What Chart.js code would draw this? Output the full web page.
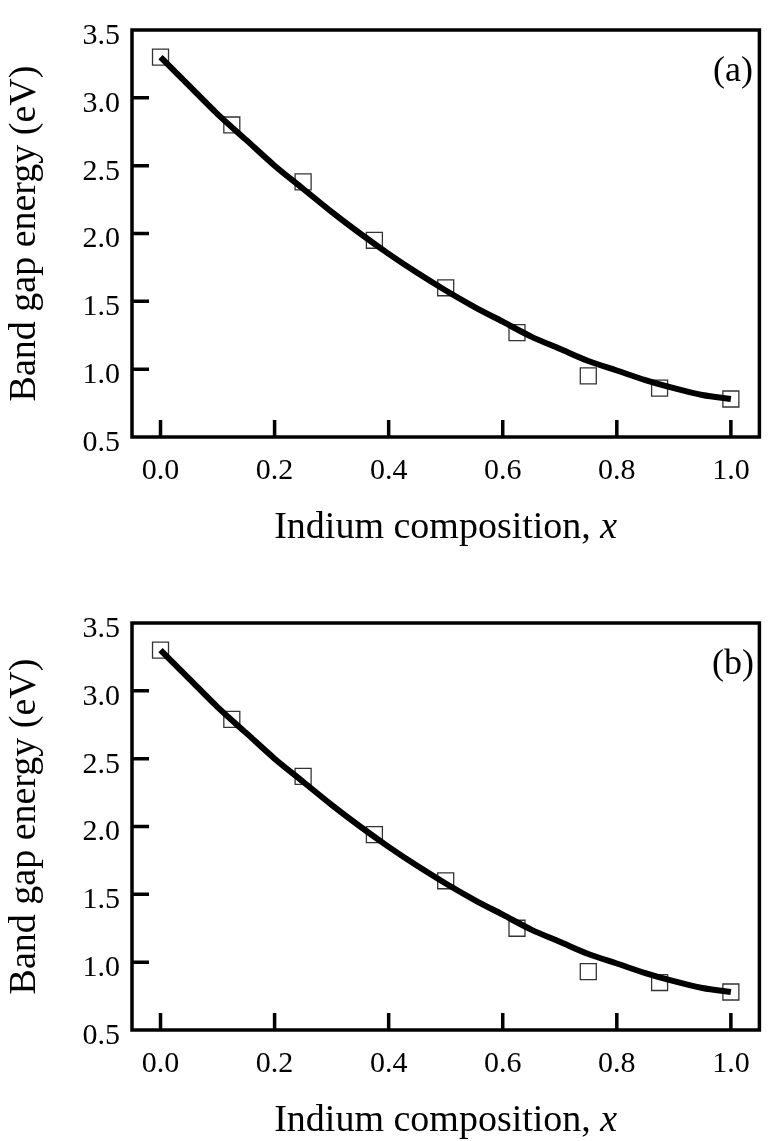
<!DOCTYPE html>
<html>
<head>
<meta charset="utf-8">
<title>Band gap energy vs indium composition</title>
<script src="https://cdn.jsdelivr.net/npm/chart.js@4.4.1/dist/chart.umd.min.js"></script>
<style>
  html, body { margin: 0; padding: 0; background: #fff; }
  #page { position: relative; width: 772px; height: 1141px; }
  .panel { position: absolute; left: 0; width: 772px; }
</style>
</head>
<body>
<div id="page">
  <div class="panel" style="top:0;height:593px"><canvas id="chartA" width="772" height="593"></canvas></div>
  <div class="panel" style="top:593px;height:548px"><canvas id="chartB" width="772" height="548"></canvas></div>
</div>
<script>
// Measured points (open squares), indium composition x
const indiumX = [0, 0.125, 0.25, 0.375, 0.5, 0.625, 0.75, 0.875, 1.0];
const bandGapA = [3.30, 2.80, 2.38, 1.95, 1.60, 1.27, 0.95, 0.86, 0.78];
const bandGapB = [3.30, 2.79, 2.37, 1.94, 1.60, 1.25, 0.93, 0.85, 0.78];

// Fitted curve (thick line)
const fitX = [0, 0.05, 0.1, 0.15, 0.2, 0.25, 0.3, 0.35, 0.4, 0.45, 0.5,
  0.55, 0.6, 0.65, 0.7, 0.75, 0.8, 0.85, 0.9, 0.95, 1.0];
const fitY = [3.30, 3.09, 2.88, 2.69, 2.50, 2.33, 2.16, 2.00, 1.85, 1.71, 1.58,
  1.46, 1.35, 1.24, 1.15, 1.06, 0.99, 0.92, 0.86, 0.81, 0.78];

// Tick labels
const xTicks = [0, 0.2, 0.4, 0.6, 0.8, 1.0];
const yTicks = [0.5, 1.0, 1.5, 2.0, 2.5, 3.0, 3.5];

const serif = "'Liberation Serif', 'Times New Roman', serif";

// Frame, inward tick marks and the titles
const panelDecor = {
  id: "panelDecor",
  afterDraw(chart, args, opts) {
    const ctx = chart.ctx;
    const { left, right, top, bottom } = chart.chartArea;
    const xs = chart.scales.x;
    const ys = chart.scales.y;
    ctx.save();
    ctx.strokeStyle = "#000";
    ctx.lineWidth = 3.5;
    ctx.strokeRect(left, top, right - left, bottom - top);

    // inner ticks
    ctx.beginPath();
    xTicks.forEach((v) => {
      const px = xs.getPixelForValue(v);
      ctx.moveTo(px, bottom);
      ctx.lineTo(px, bottom - 17);
    });
    yTicks.slice(1, -1).forEach((v) => {
      const py = ys.getPixelForValue(v);
      ctx.moveTo(left, py);
      ctx.lineTo(left + 17, py);
    });
    ctx.stroke();

    ctx.fillStyle = "#000";

    // y title
    ctx.save();
    ctx.translate(25, (top + bottom) / 2);
    ctx.rotate(-Math.PI / 2);
    ctx.font = "38px " + serif;
    ctx.textAlign = "center";
    ctx.textBaseline = "middle";
    ctx.fillText("Band gap energy (eV)", 0, 0);
    ctx.restore();

    // x title, with italic x
    const part1 = "Indium composition, ";
    const part2 = "x";
    ctx.font = "38px " + serif;
    const w1 = ctx.measureText(part1).width;
    ctx.font = "italic 38px " + serif;
    const w2 = ctx.measureText(part2).width;
    const startX = (left + right) / 2 - (w1 + w2) / 2;
    ctx.textAlign = "left";
    ctx.textBaseline = "alphabetic";
    ctx.font = "38px " + serif;
    ctx.fillText(part1, startX, bottom + 101);
    ctx.font = "italic 38px " + serif;
    ctx.fillText(part2, startX + w1, bottom + 101);

    // panel label
    ctx.font = "36px " + serif;
    ctx.textAlign = "center";
    ctx.textBaseline = "middle";
    ctx.fillText(opts.label, 733, top + 42);
    ctx.restore();
  },
};

function createPanel(canvasId, markerValues, label) {
  const canvas = document.getElementById(canvasId);
  const ctx = canvas.getContext("2d");
  const plotBottom = 437;

  return new Chart(ctx, {
    type: "scatter",
    data: {
      datasets: [
        {
          type: "line",
          data: fitX.map((x, i) => ({ x: x, y: fitY[i] })),
          borderColor: "#000",
          borderWidth: 6,
          pointRadius: 0,
          cubicInterpolationMode: "monotone",
          fill: false,
          order: 0,
        },
        {
          data: indiumX.map((x, i) => ({ x: x, y: markerValues[i] })),
          pointStyle: "rect",
          pointRadius: 11.3,
          backgroundColor: "rgba(0,0,0,0)",
          borderColor: "#333",
          borderWidth: 1.3,
          order: 1,
        },
      ],
    },
    options: {
      responsive: false,
      animation: false,
      events: [],
      layout: { padding: { left: 0, top: 16, right: 3, bottom: 0 } },
      plugins: {
        legend: { display: false },
        tooltip: { enabled: false },
        panelDecor: { label: label },
      },
      scales: {
        x: {
          type: "linear",
          min: -0.05,
          max: 1.05,
          afterBuildTicks: (s) => {
            s.ticks = xTicks.map((v) => ({ value: v }));
          },
          afterFit: (s) => {
            s.height = canvas.height - plotBottom;
          },
          grid: { display: false, drawTicks: false },
          border: { display: false },
          ticks: {
            color: "#000",
            padding: 16,
            maxRotation: 0,
            font: { family: serif, size: 30 },
            callback: (v) => Number(v).toFixed(1),
          },
        },
        y: {
          type: "linear",
          min: 0.5,
          max: 3.5,
          afterBuildTicks: (s) => {
            s.ticks = yTicks.map((v) => ({ value: v }));
          },
          afterFit: (s) => {
            s.width = 132;
          },
          grid: { display: false, drawTicks: false },
          border: { display: false },
          ticks: {
            color: "#000",
            padding: 12,
            labelOffset: 6,
            font: { family: serif, size: 30 },
            callback: (v) => Number(v).toFixed(1),
          },
        },
      },
    },
    plugins: [panelDecor],
  });
}

createPanel("chartA", bandGapA, "(a)");
createPanel("chartB", bandGapB, "(b)");
</script>
</body>
</html>
